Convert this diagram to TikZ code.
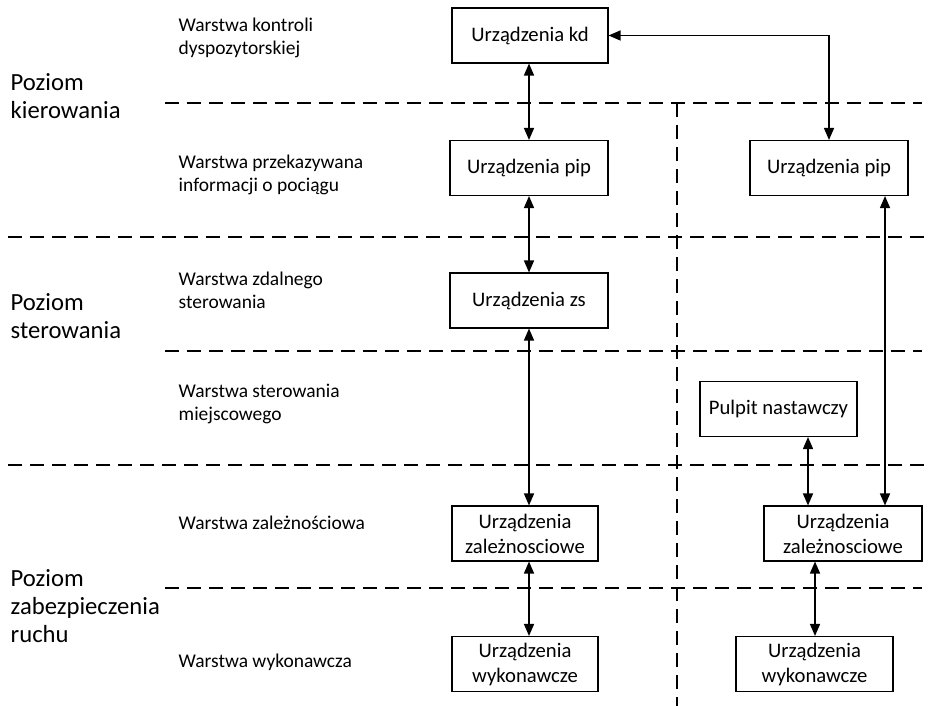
\documentclass[tikz,border=0pt]{standalone}
\usepackage{fontspec}
\setmainfont{Carlito}
\usetikzlibrary{arrows.meta}
\tikzset{
  box/.style={draw, line width=0.8pt, minimum height=41.25pt, align=center, font=\fontsize{15.5}{18.75}\selectfont},
  layer/.style={anchor=west, align=left, font=\fontsize{14.6}{17.25}\selectfont},
  level/.style={anchor=west, align=left, font=\fontsize{18.5}{21}\selectfont},
  sep/.style={line width=1pt, dash pattern=on 10.5pt off 6pt},
  link/.style={line width=1.1pt, {Triangle[length=9pt,width=7.5pt]}-{Triangle[length=9pt,width=7.5pt]}}
}
\begin{document}
\begin{tikzpicture}[x=0.75pt, y=-0.75pt]
    \useasboundingbox (0,0) rectangle (931,706);
    % level separators
    \draw[sep] (165,103) -- (922,103);
    \draw[sep] (8,237) -- (925,237);
    \draw[sep] (165,351) -- (922,351);
    \draw[sep] (8,465) -- (925,465);
    \draw[sep] (165,588) -- (922,588);
    \draw[sep] (677,103) -- (677,706);
    % levels and layers
    \node[level] (pk) at (6,96) {Poziom\\kierowania};
    \node[level] (ps) at (6,316) {Poziom\\sterowania};
    \node[level] (pz) at (6,606) {Poziom\\zabezpieczenia\\ruchu};
    \node[layer] (w1) at (174,38) {Warstwa kontroli\\dyspozytorskiej};
    \node[layer] (w2) at (174,175) {Warstwa przekazywana\\informacji o pociągu};
    \node[layer] (w3) at (174,290) {Warstwa zdalnego\\sterowania};
    \node[layer] (w4) at (174,404) {Warstwa sterowania\\miejscowego};
    \node[layer] (w5) at (174,523) {Warstwa zależnościowa};
    \node[layer] (w6) at (174,662) {Warstwa wykonawcza};
    % left column
    \node[box, minimum width=117pt] (kd) at (530,35.5) {Urządzenia kd};
    \node[box, minimum width=118.5pt] (pip1) at (529,168) {Urządzenia pip};
    \node[box, minimum width=118.5pt] (zs) at (529,300.5) {Urządzenia zs};
    \node[box, minimum width=109.5pt] (zal1) at (525,533.5) {Urządzenia\\zależnosciowe};
    \node[box, minimum width=109.5pt] (wyk1) at (525,664) {Urządzenia\\wykonawcze};
    % right column
    \node[box, minimum width=118.5pt] (pip2) at (829,168) {Urządzenia pip};
    \node[box, minimum width=117.75pt] (pulpit) at (778.5,409) {Pulpit nastawczy};
    \node[box, minimum width=118.5pt] (zal2) at (843,533.5) {Urządzenia\\zależnosciowe};
    \node[box, minimum width=117.75pt] (wyk2) at (814.5,664) {Urządzenia\\wykonawcze};
    \coordinate (c1) at (529,0);
    \coordinate (c2) at (885,0);
    \coordinate (c3) at (808,0);
    \coordinate (c4) at (815,0);
    % connections
    \draw[link] (kd.south -| c1) -- (pip1.north);
    \draw[link] (pip1) -- (zs);
    \draw[link] (zs.south) -- (zal1.north -| c1);
    \draw[link] (zal1.south -| c1) -- (wyk1.north -| c1);
    \draw[link] (kd.east) -| (pip2.north);
    \draw[link] (pip2.south -| c2) -- (zal2.north -| c2);
    \draw[link] (pulpit.south -| c3) -- (zal2.north -| c3);
    \draw[link] (zal2.south -| c4) -- (wyk2.north -| c4);
\end{tikzpicture}
\end{document}
